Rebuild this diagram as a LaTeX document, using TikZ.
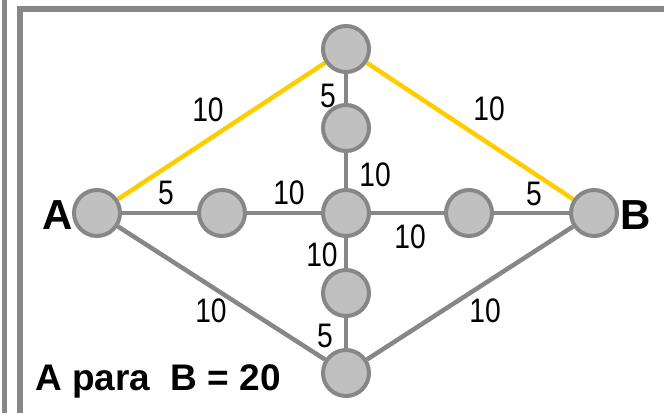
\documentclass[tikz,border=0pt]{standalone}
\usepackage{fontspec}
\setmainfont{Liberation Sans}
\newfontfamily\numfont[FakeStretch=0.83]{Liberation Sans}
\usetikzlibrary{backgrounds}
\definecolor{edgegray}{HTML}{878787}
\definecolor{nodegray}{HTML}{C0C0C0}
\definecolor{gold}{HTML}{FFCC00}
\tikzset{
  vert/.style={circle, draw=edgegray, fill=nodegray, line width=4pt, minimum size=46pt, inner sep=0pt},
  road/.style={draw=edgegray, line width=4.5pt},
  best/.style={draw=gold, line width=4.5pt},
  wlabel/.style={font=\numfont\fontsize{34}{34}\selectfont, inner sep=0pt},
  endlabel/.style={font=\bfseries\fontsize{42}{42}\selectfont, inner sep=0pt},
  frameline/.style={draw=edgegray}
}
\begin{document}
\begin{tikzpicture}[x=1pt,y=-1pt]
\useasboundingbox (0,0) rectangle (664,413);
% frame
\draw[frameline, line width=4.5pt] (4.3,0) -- (4.3,413);
\draw[frameline, line width=5.5pt] (19.8,413) -- (19.8,9) -- (664,9);
% nodes
\node[vert] (A) at (97,213) {};
\node[vert] (T) at (346,49) {};
\node[vert] (T2) at (346,128) {};
\node[vert] (L) at (222,213) {};
\node[vert] (C) at (346,213) {};
\node[vert] (R) at (469,213) {};
\node[vert] (B) at (594,213) {};
\node[vert] (D2) at (346,293) {};
\node[vert] (D) at (346,373) {};
\begin{scope}[on background layer]
\draw[best] (A) -- (T);
\draw[best] (T) -- (B);
\draw[road] (A) -- (L);
\draw[road] (L) -- (C);
\draw[road] (C) -- (R);
\draw[road] (R) -- (B);
\draw[road] (T) -- (T2);
\draw[road] (T2) -- (C);
\draw[road] (C) -- (D2);
\draw[road] (D2) -- (D);
\draw[road] (A) -- (D);
\draw[road] (D) -- (B);
\end{scope}
% weights
\node[wlabel] (w1) at (208,110) {10};
\node[wlabel] (w2) at (489,109) {10};
\node[wlabel] (w3) at (328,96) {5};
\node[wlabel] (w4) at (375,175) {10};
\node[wlabel] (w5) at (166,193) {5};
\node[wlabel] (w6) at (289,193) {10};
\node[wlabel] (w7) at (410,237) {10};
\node[wlabel] (w8) at (534,194) {5};
\node[wlabel] (w9) at (322,255) {10};
\node[wlabel] (w10) at (211,311) {10};
\node[wlabel] (w11) at (485,311) {10};
\node[wlabel] (w12) at (325,336) {5};
% end labels
\node[endlabel, anchor=east] (la) at (73,215) {A};
\node[endlabel, anchor=west] (lb) at (620,215) {B};
\node[font=\bfseries\fontsize{37}{37}\selectfont, inner sep=0pt, anchor=west] (res) at (35,381) {A para\ \ B = 20};
\end{tikzpicture}
\end{document}
